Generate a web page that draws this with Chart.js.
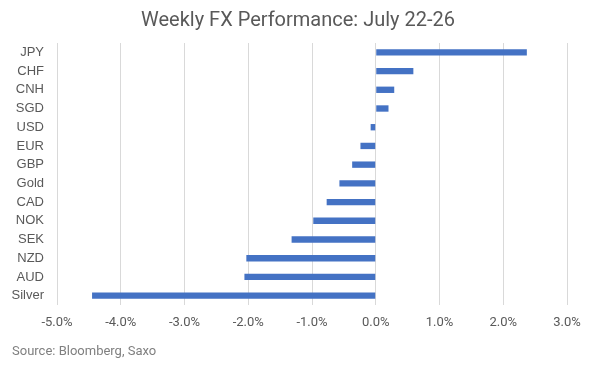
<!DOCTYPE html>
<html>
<head>
<meta charset="utf-8">
<script src="https://cdn.jsdelivr.net/npm/chart.js@4"></script>
<style>
  html, body { margin: 0; padding: 0; background: #fff; }
  #wrap { position: relative; width: 610px; height: 370px; }
</style>
</head>
<body>
<div id="wrap"><canvas id="myChart" width="610" height="370"></canvas></div>
<script>
var categories = ['JPY', 'CHF', 'CNH', 'SGD', 'USD', 'EUR', 'GBP', 'Gold', 'CAD', 'NOK', 'SEK', 'NZD', 'AUD', 'Silver']
var weeklyChange = [2.37, 0.59, 0.29, 0.20, -0.08, -0.24, -0.37, -0.57, -0.77, -0.98, -1.32, -2.03, -2.06, -4.45]
var xTicks = { min: -5, max: 3, step: 1 }
var titleText = 'Weekly FX Performance: July 22-26'
var sourceText = 'Source: Bloomberg, Saxo'

Chart.defaults.color = '#595959'
Chart.defaults.font.family = 'Roboto'

// title and source note sit outside the plot, placed like the original
const textPlugin = {
    id: 'textPlugin',
    afterDraw: (chart) => {
        const ctx = chart.ctx
        ctx.save()
        ctx.fillStyle = '#595959'
        ctx.font = '20px Roboto'
        ctx.textAlign = 'center'
        ctx.textBaseline = 'middle'
        ctx.fillText(titleText, 298, 21)
        ctx.fillStyle = '#7f7f7f'
        ctx.font = '13px Roboto'
        ctx.textAlign = 'left'
        ctx.fillText(sourceText, 12, 352)
        ctx.restore()
    }
}

var chart = new Chart(document.getElementById('myChart'), {
    type: 'bar',
    data: {
        labels: categories,
        datasets: [
            {
                label: 'Weekly change',
                data: weeklyChange,
                backgroundColor: '#4472c4',
                borderWidth: 0,
                barPercentage: 0.34,
                categoryPercentage: 1
            }
        ]
    },
    options: {
        indexAxis: 'y',
        responsive: false,
        animation: false,
        layout: { padding: { top: 43, right: 43, left: 0, bottom: 0 } },
        plugins: {
            legend: { display: false },
            tooltip: { enabled: false }
        },
        scales: {
            x: {
                min: xTicks.min,
                max: xTicks.max,
                afterFit: (scale) => { scale.height = 65 },
                border: { display: false },
                grid: { color: '#d9d9d9', lineWidth: 1, drawTicks: false },
                ticks: {
                    stepSize: xTicks.step,
                    padding: 10,
                    font: { size: 13 },
                    callback: (v) => v.toFixed(1) + '%'
                }
            },
            y: {
                afterFit: (scale) => { scale.width = 57 },
                border: { display: false },
                grid: { display: false, drawTicks: false },
                ticks: {
                    padding: 13,
                    font: { family: 'Liberation Sans', size: 13 }
                }
            }
        }
    },
    plugins: [textPlugin]
})
</script>
</body>
</html>
